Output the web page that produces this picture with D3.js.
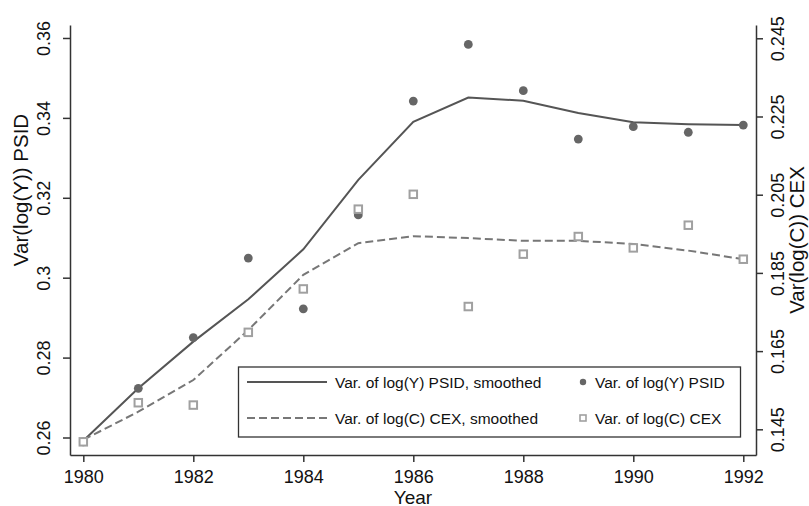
<!DOCTYPE html>
<html><head><meta charset="utf-8">
<script src="https://cdn.jsdelivr.net/npm/d3@7"></script>
<style>
body{margin:0;background:#fff}
svg{display:block}
text{font-family:"Liberation Sans",Arial,Helvetica,sans-serif;fill:#111}
</style>
</head><body>
<svg id="c" width="809" height="506"></svg>
<script>
// ---- data ----
const years = [1980,1981,1982,1983,1984,1985,1986,1987,1988,1989,1990,1991,1992];
const psidRaw      = [0.2589,0.2723,0.2850,0.3049,0.2922,0.3157,0.3442,0.3584,0.3468,0.3347,0.3378,0.3364,0.3382];
const psidSmoothed = [0.2592,0.2723,0.2840,0.2946,0.3071,0.3245,0.3390,0.3451,0.3443,0.3412,0.3389,0.3384,0.3382];
const cexRaw       = [0.1418,0.1518,0.1512,0.1698,0.1809,0.2013,0.2051,0.1764,0.1898,0.1943,0.1914,0.1972,0.1885];
const cexSmoothed  = [0.1423,0.1495,0.1576,0.1704,0.1845,0.1926,0.1944,0.1939,0.1932,0.1932,0.1924,0.1907,0.1885];
const xTicks = [1980,1982,1984,1986,1988,1990,1992];
const leftTicks = [0.26,0.28,0.30,0.32,0.34,0.36];
const leftTickLabels = ["0.26","0.28","0.3","0.32","0.34","0.36"];
const rightTicks = [0.145,0.165,0.185,0.205,0.225,0.245];
const rightTickLabels = ["0.145","0.165","0.185","0.205","0.225","0.245"];
const xTitle = "Year", leftTitle = "Var(log(Y)) PSID", rightTitle = "Var(log(C)) CEX";
const legendLabels = ["Var. of log(Y) PSID, smoothed","Var. of log(C) CEX, smoothed","Var. of log(Y) PSID","Var. of log(C) CEX"];

// ---- layout ----
const L = 70, R = 756, T = 25, B = 455;
const svg = d3.select("#c");
const x  = d3.scaleLinear().domain([1979.758, 1992.231]).range([L, R]);
const yL = d3.scaleLinear().domain([0.25562, 0.36325]).range([B, T]);
const yR = d3.scaleLinear().domain([0.13843, 0.2484]).range([B, T]);

const axisColor = "#333";
function styleAxis(g){
  g.selectAll(".domain").attr("stroke", axisColor).attr("stroke-width", 1.5);
  g.selectAll(".tick line").attr("stroke", axisColor).attr("stroke-width", 1.5);
  g.selectAll(".tick text").attr("font-size", 18).attr("fill", "#111")
   .attr("font-family", '"Liberation Sans",Arial,sans-serif');
}

// bottom axis
const gx = svg.append("g").attr("transform", `translate(0,${B})`)
  .call(d3.axisBottom(x).tickValues(xTicks).tickFormat(d3.format("d")).tickSize(7).tickSizeOuter(0));
styleAxis(gx);
gx.selectAll(".tick text").attr("y", 0).attr("dy", null).attr("transform", "translate(0,27.5)");

// left axis
const gl = svg.append("g").attr("transform", `translate(${L},0)`)
  .call(d3.axisLeft(yL).tickValues(leftTicks).tickFormat((d,i)=>leftTickLabels[i]).tickSize(7).tickSizeOuter(0));
styleAxis(gl);
gl.selectAll(".tick text").attr("x", 0).attr("dy", null).attr("text-anchor", "middle")
  .attr("transform", "translate(-20,0) rotate(-90)");

// right axis
const gr = svg.append("g").attr("transform", `translate(${R},0)`)
  .call(d3.axisRight(yR).tickValues(rightTicks).tickFormat((d,i)=>rightTickLabels[i]).tickSize(7).tickSizeOuter(0));
styleAxis(gr);
gr.selectAll(".tick text").attr("x", 0).attr("dy", null).attr("text-anchor", "middle")
  .attr("transform", "translate(28,0) rotate(-90)");

// titles
svg.append("text").attr("x", (L+R)/2).attr("y", 504).attr("text-anchor", "middle")
  .attr("font-size", 19).text(xTitle);
svg.append("text").attr("transform", "translate(28,190) rotate(-90)").attr("text-anchor", "middle")
  .attr("font-size", 20.5).text(leftTitle);
svg.append("text").attr("transform", "translate(804,240) rotate(-90)").attr("text-anchor", "middle")
  .attr("font-size", 20.5).text(rightTitle);

// lines
const lineL = d3.line().x((d,i)=>x(years[i])).y(d=>yL(d));
const lineR = d3.line().x((d,i)=>x(years[i])).y(d=>yR(d));
svg.append("path").datum(psidSmoothed).attr("d", lineL).attr("fill", "none")
  .attr("stroke", "#555").attr("stroke-width", 2);
svg.append("path").datum(cexSmoothed).attr("d", lineR).attr("fill", "none")
  .attr("stroke", "#777").attr("stroke-width", 2).attr("stroke-dasharray", "8,4");

// markers
svg.append("g").selectAll("circle").data(psidRaw).join("circle")
  .attr("cx", (d,i)=>x(years[i])).attr("cy", d=>yL(d)).attr("r", 4.4).attr("fill", "#666");
const sq = 7.5;
svg.append("g").selectAll("rect").data(cexRaw).join("rect")
  .attr("x", (d,i)=>x(years[i]) - sq/2).attr("y", d=>yR(d) - sq/2)
  .attr("width", sq).attr("height", sq)
  .attr("fill", "#fff").attr("stroke", "#a0a0a0").attr("stroke-width", 2);

// legend
const lg = svg.append("g");
lg.append("rect").attr("x", 238.5).attr("y", 367).attr("width", 502).attr("height", 70)
  .attr("fill", "#fff").attr("stroke", "#333").attr("stroke-width", 1.3);
const r1 = 382, r2 = 418;
lg.append("line").attr("x1", 247).attr("x2", 327).attr("y1", r1).attr("y2", r1)
  .attr("stroke", "#555").attr("stroke-width", 2);
lg.append("line").attr("x1", 247).attr("x2", 327).attr("y1", r2).attr("y2", r2)
  .attr("stroke", "#777").attr("stroke-width", 2).attr("stroke-dasharray", "8,4");
lg.append("circle").attr("cx", 583).attr("cy", r1).attr("r", 3.2).attr("fill", "#666");
lg.append("rect").attr("x", 580).attr("y", r2-3).attr("width", 6).attr("height", 6)
  .attr("fill", "#fff").attr("stroke", "#a0a0a0").attr("stroke-width", 1.6);
const lx = [335, 335, 595, 595], ly = [r1, r2, r1, r2];
lg.selectAll("text").data(legendLabels).join("text")
  .attr("x", (d,i)=>lx[i]).attr("y", (d,i)=>ly[i]).attr("dy", "0.36em")
  .attr("font-size", 15.5).text(d=>d);
</script>
</body></html>
